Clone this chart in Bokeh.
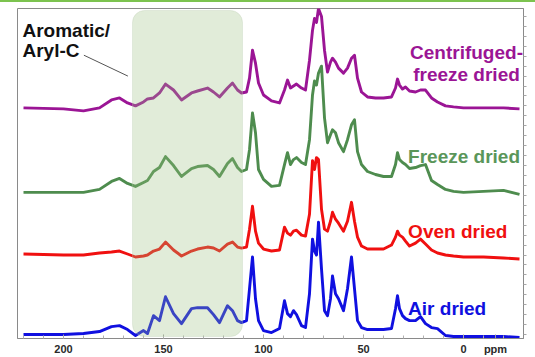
from bokeh.plotting import figure
from bokeh.models import Range1d, FixedTicker, LinearAxis, BoxAnnotation, Label, Div
from bokeh.layouts import column
from bokeh.embed import file_html
from bokeh.resources import INLINE

# chemical shift grid (ppm)
ppm = [220, 200, 190, 182, 176, 172, 168, 164, 160, 158,
       155, 152, 149, 145, 141, 136, 133, 128, 125, 122,
       118, 115.5, 113, 111, 108.5, 107, 105.5, 104, 102.5, 100,
       96, 92, 89.5, 88, 86.5, 85, 83.5, 81, 79, 77,
       75.5, 74.5, 73.5, 72.5, 71, 69.5, 68, 66.5, 65.5, 64,
       62.5, 60, 58, 56, 54.5, 53, 51, 48, 44, 40,
       36, 34, 33, 32, 30.5, 29, 27, 24, 21.5, 19,
       16, 13, 9, 5, 0, -10, -20, -28]

air_dried = [0, 0, 1, 3, 8, 9, 5, -1, 4, 1,
             19, 14, 38, 21, 11, 26, 27, 27, 20, 12,
             29, 24, 14, 12, 14, 46, 78, 36, 14, 4,
             2, 6, 34, 21, 18, 24, 20, 9, 7, 41,
             96, 84, 80, 113, 66, 24, 19, 36, 59, 41,
             36, 24, 46, 78, 46, 14, 7, 5, 5, 5,
             6, 26, 39, 26, 19, 16, 14, 14, 18, 11,
             7, 6, -1, -2, -2, -2, -2, -3]

oven_dried = [0, -1, -1, 1, 2, 3, 0, -3, -2, -1,
              3, 5, 12, 4, -2, 3, 5, 7, 6, 3,
              10, 12, 7, 6, 7, 25, 48, 23, 11, 5,
              3, 4, 27, 21, 19, 23, 24, 19, 18, 40,
              94, 85, 97, 95, 45, 25, 23, 33, 42, 35,
              31, 23, 33, 52, 33, 17, 8, 5, 5, 5,
              9, 17, 23, 19, 17, 13, 8, 11, 15, 10,
              4, 1, -1, -2, -3, -3, -4, -5]

freeze_dried = [0, 0, 0, 3, 11, 14, 9, 6, 10, 12,
                21, 25, 36, 27, 16, 24, 26, 27, 23, 16,
                29, 34, 25, 21, 23, 43, 80, 60, 23, 13,
                6, 7, 28, 40, 28, 33, 35, 30, 28, 53,
                98, 112, 108, 120, 127, 75, 50, 58, 63, 60,
                50, 41, 53, 68, 73, 41, 28, 21, 18, 16,
                16, 28, 40, 33, 30, 28, 24, 25, 27, 28,
                12, 8, 3, 1, 0, 1, 2, -2]

centrifuged_freeze_dried = [0, -1, -3, 0, 8, 10, 5, 2, 6, 9,
                            10, 15, 24, 18, 8, 15, 17, 20, 16, 11,
                            20, 25, 18, 15, 16, 30, 58, 45, 25, 13,
                            7, 5, 18, 28, 20, 22, 24, 20, 18, 48,
                            78, 90, 86, 100, 92, 58, 36, 46, 50, 46,
                            40, 35, 40, 50, 53, 30, 16, 11, 10, 10,
                            11, 20, 29, 23, 19, 21, 17, 16, 18, 18,
                            10, 6, 2, 1, 0, 0, 0, -1]

tick_values = [200, 150, 100, 50, 0]

# stacking: (values, vertical offset, color)
traces = [
    (air_dried, 4, "#1010e0"),
    (oven_dried, 85, "#f01010"),
    (freeze_dried, 147, "#4e8c4e"),
    (centrifuged_freeze_dried, 232, "#9b1595"),
]

p = figure(width=535, height=355,
           x_range=Range1d(223, -30), y_range=Range1d(0, 332),
           output_backend="svg", toolbar_location=None,
           y_axis_location=None,
           min_border_left=17, min_border_right=12,
           min_border_top=6, min_border_bottom=17)
p.grid.visible = False
p.outline_line_color = "#8a8a8a"
p.outline_line_width = 1
p.background_fill_color = "white"
p.border_fill_color = "white"

for vals, off, col in traces:
    p.line(ppm, [v + off for v in vals], line_color=col, line_width=2.9,
           line_join="round")

# shaded aromatic region (overlaid, semi-transparent)
box = BoxAnnotation(left=165.5, right=110.5, bottom=2, top=330,
                    fill_color="#9dbf80", fill_alpha=0.3,
                    line_color="#b9cbb0", line_width=1,
                    border_radius=12, level="overlay")
p.add_layout(box)

# bottom axis
xa = p.xaxis[0]
xa.ticker = FixedTicker(ticks=tick_values + [-16],
                        minor_ticks=list(range(220, -30, -10)))
xa.major_label_overrides = {-16: "ppm"}
xa.major_label_text_font = "Liberation Sans"
xa.major_label_text_font_style = "bold"
xa.major_label_text_font_size = "11px"
xa.major_label_text_color = "#2a2a2a"
xa.major_label_standoff = 4
xa.axis_line_color = "#8a8a8a"
xa.major_tick_in = 4
xa.major_tick_out = 0
xa.minor_tick_in = 3
xa.minor_tick_out = 0
xa.major_tick_line_color = "#9a9a9a"
xa.minor_tick_line_color = "#b0b0b0"

# right axis: tick marks only
ra = LinearAxis(ticker=FixedTicker(ticks=[], minor_ticks=list(range(4, 332, 10))))
ra.axis_line_color = "#8a8a8a"
ra.minor_tick_in = 0
ra.minor_tick_out = 3
ra.minor_tick_line_color = "#a8a8a8"
p.add_layout(ra, "right")

def lab(x, y, text, color, align="left", size="19px"):
    p.add_layout(Label(x=x, y=y, text=text, text_color=color,
                       text_font="Liberation Sans", text_font_style="bold",
                       text_font_size=size, text_align=align,
                       text_baseline="alphabetic"))

lab(220.5, 310, "Aromatic/", "#111111")
lab(220.5, 290, "Aryl-C", "#111111")
p.line([189.8, 167.8], [285, 264], line_color="#555555", line_width=1)

lab(-1.5, 288, "Centrifuged-", "#9b1595", align="center")
lab(-1.5, 266, "freeze dried", "#9b1595", align="center")
lab(27.7, 183, "Freeze dried", "#5a965a")
lab(27.7, 108, "Oven dried", "#f01010")
lab(27.7, 30, "Air dried", "#1010e0")

# thin green band across the top of the slide
band = Div(text="", width=535, height=2, margin=0,
           styles={"background-color": "#7cc34f"})

layout = column(band, p, spacing=0)
open("out.html", "w").write(file_html(layout, INLINE))
